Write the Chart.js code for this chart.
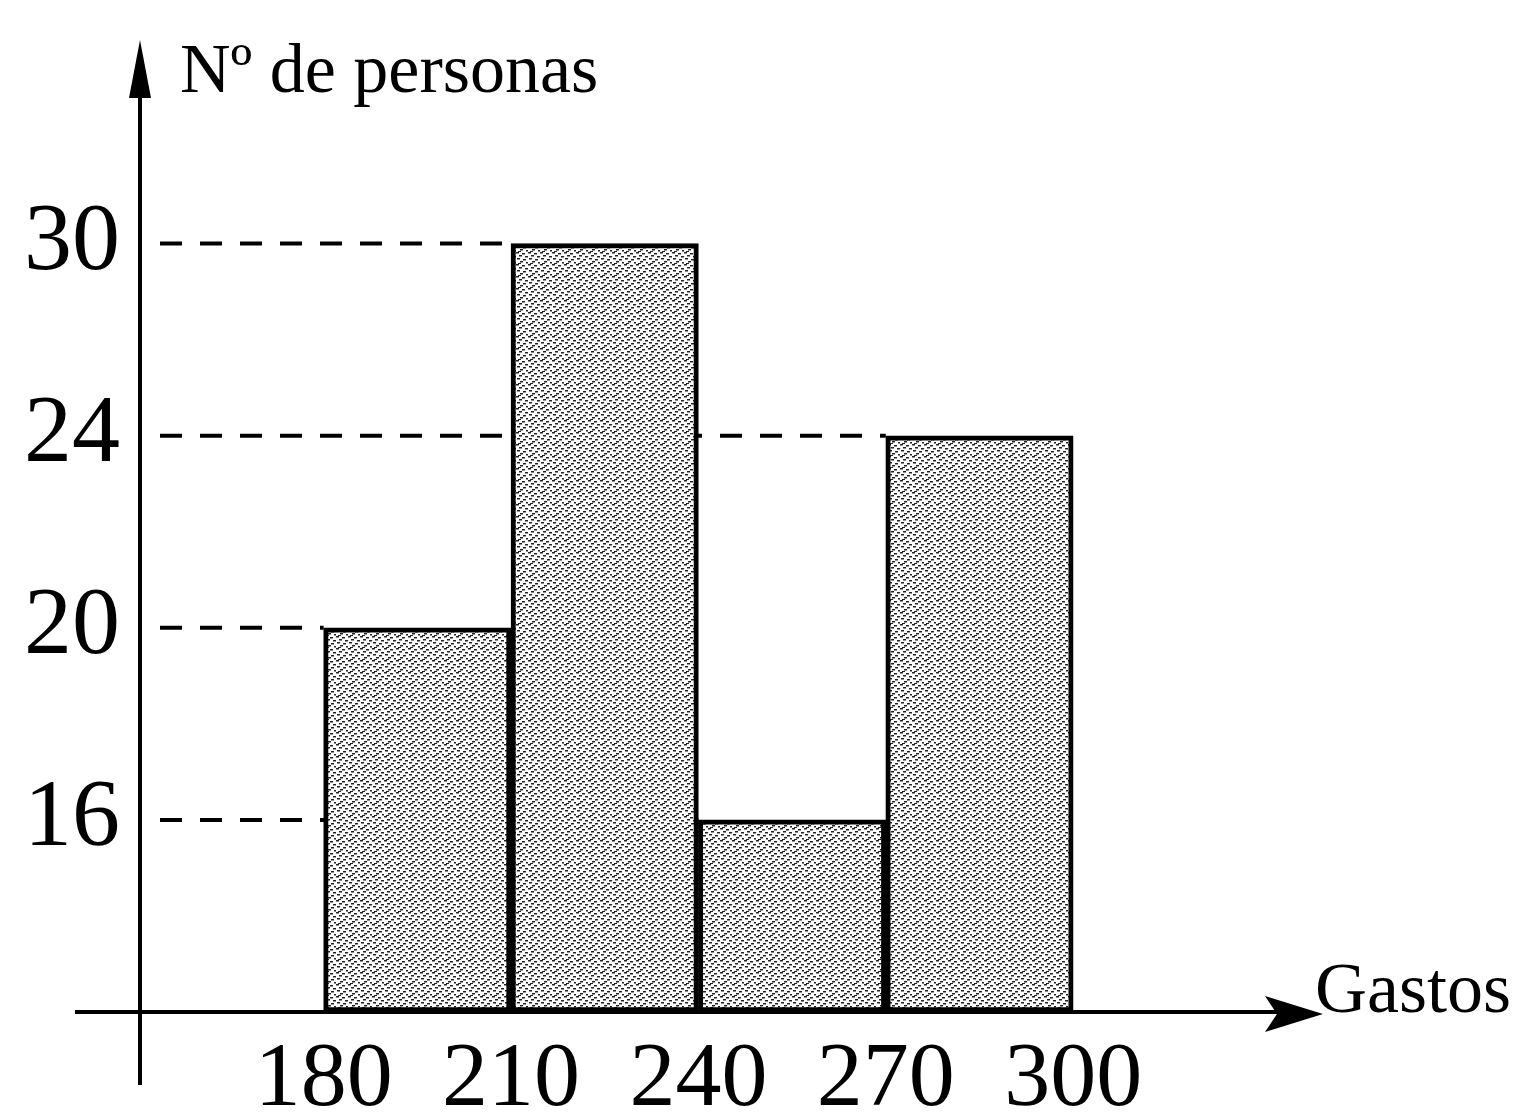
<!DOCTYPE html>
<html>
<head>
<meta charset="utf-8">
<title>Gastos</title>
<script src="https://cdn.jsdelivr.net/npm/chart.js@4/dist/chart.umd.min.js"></script>
<style>
  html, body { margin: 0; padding: 0; background: #fff; }
  canvas { display: block; }
</style>
</head>
<body>
<canvas id="hist" width="1516" height="1112"></canvas>
<script>
// class edges on the x axis, people per class, and the y levels that are labelled
var edges = [180, 210, 240, 270, 300];
var counts = [20, 30, 16, 24];
var levels = [16, 20, 24, 30];
var yTitle = 'Nº de personas';
var xTitle = 'Gastos';

var SERIF = '"Liberation Serif", "DejaVu Serif", serif';

// the y axis is not to scale in the original: each level sits on its own step
function step(v) { return levels.indexOf(v) + 1; }

function makeStipple() {
  var c = document.createElement('canvas');
  c.width = 12; c.height = 12;
  var g = c.getContext('2d');
  g.fillStyle = '#fff';
  g.fillRect(0, 0, 12, 12);
  g.fillStyle = '#222';
  var dots = [[0,0],[6,1],[3,3],[9,4],[1,6],[7,7],[4,9],[10,10],[2,11]];
  dots.forEach(function (d) { g.fillRect(d[0], d[1], 3, 1.5); });
  return g.createPattern(c, 'repeat');
}

var points = counts.map(function (n, i) {
  return { x: (edges[i] + edges[i + 1]) / 2, y: step(n) };
});

var axesPlugin = {
  id: 'handAxes',
  beforeDatasetsDraw: function (chart) {
    var ctx = chart.ctx, xs = chart.scales.x, ys = chart.scales.y;
    var x0 = xs.getPixelForValue(xs.min);
    ctx.save();
    ctx.strokeStyle = '#000';
    ctx.lineWidth = 4;
    ctx.setLineDash([22, 18]);
    levels.forEach(function (lv) {
      var i = counts.indexOf(lv);
      var y = ys.getPixelForValue(step(lv));
      ctx.beginPath();
      ctx.moveTo(x0 + 20, y);
      ctx.lineTo(xs.getPixelForValue(edges[i]), y);
      ctx.stroke();
    });
    ctx.restore();
  },
  afterDatasetsDraw: function (chart) {
    var ctx = chart.ctx, xs = chart.scales.x, ys = chart.scales.y;
    var ax = xs.getPixelForValue(xs.min);
    var ay = ys.getPixelForValue(0);
    var top = ys.getPixelForValue(ys.max);
    var right = xs.getPixelForValue(xs.max);
    ctx.save();
    ctx.strokeStyle = '#000';
    ctx.fillStyle = '#000';
    ctx.lineWidth = 4;
    // y axis, running a little below the x axis
    ctx.beginPath();
    ctx.moveTo(ax, ay + 73);
    ctx.lineTo(ax, top + 40);
    ctx.stroke();
    ctx.beginPath();
    ctx.moveTo(ax, top);
    ctx.lineTo(ax - 11, top + 58);
    ctx.lineTo(ax + 11, top + 58);
    ctx.closePath();
    ctx.fill();
    // x axis, starting left of the y axis
    ctx.beginPath();
    ctx.moveTo(ax - 65, ay);
    ctx.lineTo(right - 40, ay);
    ctx.stroke();
    ctx.beginPath();
    ctx.moveTo(right, ay + 2);
    ctx.lineTo(right - 58, ay - 16);
    ctx.lineTo(right - 46, ay + 2);
    ctx.lineTo(right - 58, ay + 20);
    ctx.closePath();
    ctx.fill();
    // axis titles
    ctx.font = '70px ' + SERIF;
    ctx.textBaseline = 'alphabetic';
    ctx.textAlign = 'left';
    ctx.fillText(yTitle, ax + 40, top + 52);
    ctx.font = '72px ' + SERIF;
    ctx.fillText(xTitle, right - 8, ay);
    ctx.restore();
  }
};

new Chart(document.getElementById('hist').getContext('2d'), {
  type: 'bar',
  data: {
    datasets: [{
      data: points,
      backgroundColor: makeStipple(),
      borderColor: '#000',
      borderWidth: 5,
      borderSkipped: false,
      barPercentage: 1,
      categoryPercentage: 1
    }]
  },
  plugins: [axesPlugin],
  options: {
    responsive: false,
    animation: false,
    events: [],
    layout: { padding: { top: 40, right: 193, left: 0, bottom: 0 } },
    plugins: { legend: { display: false }, tooltip: { enabled: false } },
    scales: {
      x: {
        type: 'linear',
        offset: false,
        min: 150.6,
        max: 340,
        grid: { display: false, offset: false },
        border: { display: false },
        afterBuildTicks: function (s) { s.ticks = edges.map(function (v) { return { value: v }; }); },
        afterFit: function (s) { s.height = 100; s.paddingLeft = 0; s.paddingRight = 0; },
        ticks: {
          color: '#000',
          padding: 6,
          maxRotation: 0,
          autoSkip: false,
          font: { family: SERIF, size: 92 },
          callback: function (v) { return String(v); }
        }
      },
      y: {
        min: 0,
        max: 5.06,
        grid: { display: false },
        border: { display: false },
        afterBuildTicks: function (s) { s.ticks = levels.map(function (v, i) { return { value: i + 1 }; }); },
        afterFit: function (s) { s.width = 140; s.paddingTop = 0; s.paddingBottom = 0; },
        ticks: {
          color: '#000',
          padding: 12,
          autoSkip: false,
          font: { family: SERIF, size: 96 },
          callback: function (v) { return String(levels[v - 1]); }
        }
      }
    }
  }
});
</script>
</body>
</html>
